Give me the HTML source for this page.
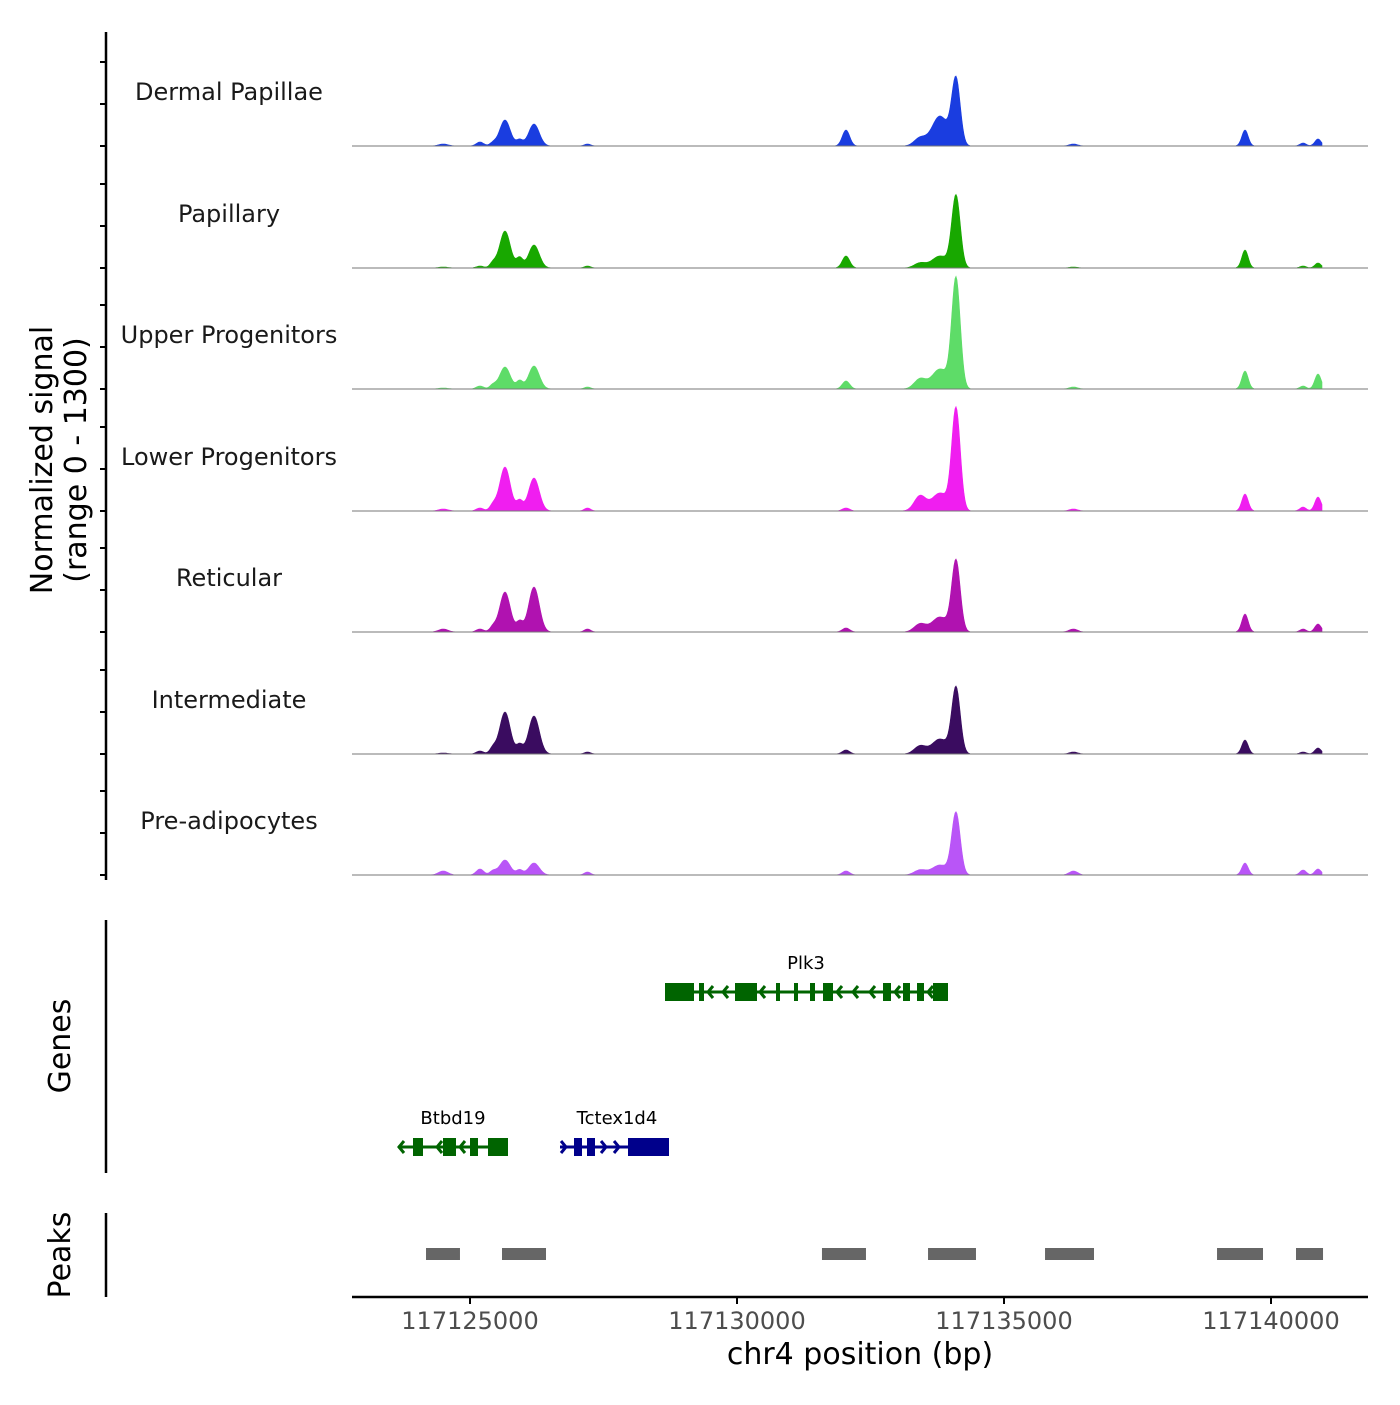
<!DOCTYPE html>
<html><head><meta charset="utf-8"><style>
body{margin:0;background:#fff}
svg text{font-family:"DejaVu Sans","Liberation Sans",sans-serif}
</style></head><body>
<svg id="c" width="1400" height="1400" viewBox="0 0 1400 1400" xmlns="http://www.w3.org/2000/svg"></svg>
<script>
const tracks=["Dermal Papillae","Papillary","Upper Progenitors","Lower Progenitors","Reticular","Intermediate","Pre-adipocytes"];
const colors=["#1a3de0","#18a800","#5edc68","#f01ef0","#b012b0","#3a0c60","#b955f7"];
const peakPos=[117124500,117125187,117125430,117125655,117125930,117126198,117127200,117132041,117133427,117133800,117134101,117136300,117139513,117140600,117140880];
const peakWidth=[90,70,60,100,60,100,60,70,110,150,80,80,60,60,60];
const heights=[
[2,4,3,26,6,22,2,16,8,30,66,2,16,3,7],
[1,2,5,37,10,23,2,12,5,12,72,1,18,2,5],
[1,3,4,22,8,23,2,8,10,20,110,2,18,3,15],
[2,3,6,44,10,33,3,3,15,18,102,2,17,4,14],
[3,3,5,40,10,45,3,4,8,15,71,3,18,3,8],
[1,3,6,42,9,38,2,4,8,15,66,2,14,2,6],
[4,6,4,15,5,12,3,4,5,10,62,4,12,5,6]];
const ticksX=[117125000,117130000,117135000,117140000];
const peaksStart=[117124176,117125599,117131591,117133577,117135768,117138989,117140468];
const peaksEnd=[117124812,117126423,117132415,117134475,117136685,117139850,117140974];
const X0=117122790,PX0=352,K=0.0534;
const sx=b=>PX0+(b-X0)*K;
const svg=document.getElementById('c');const NS="http://www.w3.org/2000/svg";
function el(t,a,p){const e=document.createElementNS(NS,t);for(const k in a)e.setAttribute(k,a[k]);(p||svg).appendChild(e);return e;}
const base=[146,268,389,511,632,754,875];
el('line',{x1:106,y1:32,x2:106,y2:880,stroke:'#000','stroke-width':2.5});
tracks.forEach((name,i)=>{
 const g=el('g',{});
 
 
 const b=base[i];
 let d='M352,'+b;
 for(let px=352;px<=1322;px+=1){
   const bp=X0+(px-PX0)/K;let v=0;
   peakPos.forEach((p,j)=>{const z=(bp-p)/peakWidth[j];v+=heights[i][j]*Math.exp(-z*z/2);});
   d+=' L'+px+','+(b-v).toFixed(1);
 }
 d+=' L1322,'+b+' Z';
 const a=el('path',{d:d,fill:colors[i],stroke:colors[i],'stroke-width':0.6},g);
 
 el('line',{x1:352,y1:b,x2:1368,y2:b,stroke:'#777','stroke-width':1},g);
 [0,42,84].forEach(o=>{el('line',{x1:100,y1:b-o,x2:106,y2:b-o,stroke:'#000','stroke-width':2},g);});
 const t=el('text',{x:229,y:b-46,'text-anchor':'middle','font-size':24,fill:'#1a1a1a'},g);t.textContent=name;
 
});
const yt=el('text',{transform:'translate(52,460) rotate(-90)','text-anchor':'middle','font-size':30,fill:'#000'});

yt.innerHTML='<tspan x="0" dy="0">Normalized signal</tspan><tspan x="0" dy="34">(range 0 - 1300)</tspan>';
el('line',{x1:106,y1:920,x2:106,y2:1173,stroke:'#000','stroke-width':2.5});
const gt=el('text',{transform:'translate(70,1046) rotate(-90)','text-anchor':'middle','font-size':30});gt.textContent='Genes';
function gene(name,x1,x2,y,col,ex,arr,dir,lx){
 const g=el('g',{});
 el('line',{x1:x1,y1:y,x2:x2,y2:y,stroke:col,'stroke-width':3},g);
 ex.forEach(e=>el('rect',{x:e[0],y:y-9,width:e[1]-e[0],height:18,fill:col},g));
 arr.forEach(a=>el('polyline',{points:dir<0?`${a+5},${y-6} ${a},${y} ${a+5},${y+6}`:`${a-5},${y-6} ${a},${y} ${a-5},${y+6}`,fill:'none',stroke:col,'stroke-width':3},g));
 const t=el('text',{x:lx,y:y-23,'text-anchor':'middle','font-size':18,fill:'#000'},g);t.textContent=name;
}
gene('Plk3',666,948,992,'#006400',[[665,694],[699,704],[735,757],[776,780],[794,798],[810,815],[823,833],[883,891],[903,910],[917,924],[933,948]],[708,723,760,837,853,870,895,928],-1,806);
gene('Btbd19',398,508,1147,'#006400',[[413,423],[443,456],[470,478],[488,508]],[399,437,460],-1,453);
gene('Tctex1d4',560,669,1147,'#00008b',[[574,582],[587,595],[628,669]],[566,606,619],1,617);
el('line',{x1:106,y1:1213,x2:106,y2:1297,stroke:'#000','stroke-width':2.5});
const pt=el('text',{transform:'translate(70,1255) rotate(-90)','text-anchor':'middle','font-size':30});pt.textContent='Peaks';
peaksStart.forEach((s,i)=>{const r=el('rect',{x:sx(s),y:1248,width:sx(peaksEnd[i])-sx(s),height:12,fill:'#666'});});
el('line',{x1:352,y1:1297,x2:1368,y2:1297,stroke:'#000','stroke-width':2.5});
ticksX.forEach(v=>{const x=sx(v);el('line',{x1:x,y1:1297,x2:x,y2:1304,stroke:'#000','stroke-width':2});
 const t=el('text',{x:x,y:1329,'text-anchor':'middle','font-size':24,fill:'#4d4d4d'});t.textContent=v;});
const xt=el('text',{x:860,y:1364,'text-anchor':'middle','font-size':30});xt.textContent='chr4 position (bp)';
</script>
</body></html>
